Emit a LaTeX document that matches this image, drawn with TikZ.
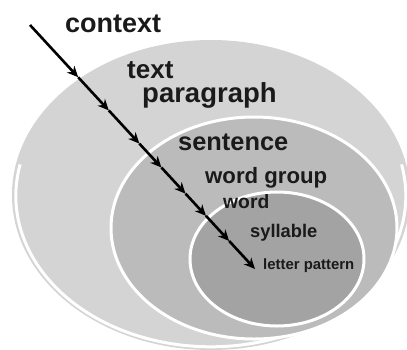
\documentclass[tikz,border=0pt]{standalone}
\usepackage{fontspec}
\setmainfont{Liberation Sans}
\usetikzlibrary{arrows.meta,calc}
\definecolor{zoneouter}{HTML}{D4D4D4}
\definecolor{zonemid}{HTML}{BBBBBB}
\definecolor{zoneinner}{HTML}{A3A3A3}
\definecolor{labelink}{HTML}{1A1A1A}
\begin{document}
\begin{tikzpicture}[x=1pt,y=-1pt,
  lbl/.style={anchor=base west, inner sep=0pt, text=labelink},
  rim/.style={draw=white, line width=3pt},
  flow/.style={draw=black, line width=2.6pt,
    -{Stealth[length=11pt,width=10pt,inset=3.5pt]}}]
\useasboundingbox (0,0) rectangle (407,349);

% nested zones
\begin{scope}
  \clip (0,0) rectangle (407,349);
  \fill[zoneouter] (211,195) ellipse [x radius=199pt, y radius=155pt];
  \draw[rim] (20.1,164.4) arc[start angle=168, end angle=372,
    x radius=195pt, y radius=151pt];
  \filldraw[fill=zonemid, rim] (254,228) ellipse [x radius=143pt, y radius=111pt];
  \filldraw[fill=zoneinner, rim] (277,259) ellipse [x radius=87pt, y radius=67pt];
\end{scope}

% labels
\node[lbl, font={\bfseries\fontsize{27}{27}\selectfont}] (ctx) at (65,32) {context};
\node[lbl, font={\bfseries\fontsize{26}{26}\selectfont}] (txt) at (127,78) {text};
\node[lbl, font={\bfseries\fontsize{27.5}{27.5}\selectfont}] (par) at (142,102) {paragraph};
\node[lbl, font={\bfseries\fontsize{25.4}{25.4}\selectfont}] (sen) at (178,150) {sentence};
\node[lbl, font={\bfseries\fontsize{22.2}{22.2}\selectfont}] (wgr) at (205,183) {word group};
\node[lbl, font={\bfseries\fontsize{19.3}{19.3}\selectfont}] (wrd) at (223,208) {word};
\node[lbl, font={\bfseries\fontsize{18.3}{18.3}\selectfont}] (syl) at (250,237) {syllable};
\node[lbl, font={\bfseries\fontsize{14.9}{14.9}\selectfont}] (ltp) at (263,269) {letter pattern};

% the descending arrow with its stops
\coordinate (s0) at (30,25);
\coordinate (s8) at (255,269);
\coordinate (s1) at ($(s0)!0.214!(s8)$);
\coordinate (s2) at ($(s0)!0.350!(s8)$);
\coordinate (s3) at ($(s0)!0.486!(s8)$);
\coordinate (s4) at ($(s0)!0.584!(s8)$);
\coordinate (s5) at ($(s0)!0.691!(s8)$);
\coordinate (s6) at ($(s0)!0.782!(s8)$);
\coordinate (s7) at ($(s0)!0.885!(s8)$);
\draw[flow] (s0) -- (s1);
\draw[flow] (s1) -- (s2);
\draw[flow] (s2) -- (s3);
\draw[flow] (s3) -- (s4);
\draw[flow] (s4) -- (s5);
\draw[flow] (s5) -- (s6);
\draw[flow] (s6) -- (s7);
\draw[flow] (s7) -- (s8);
\end{tikzpicture}
\end{document}
